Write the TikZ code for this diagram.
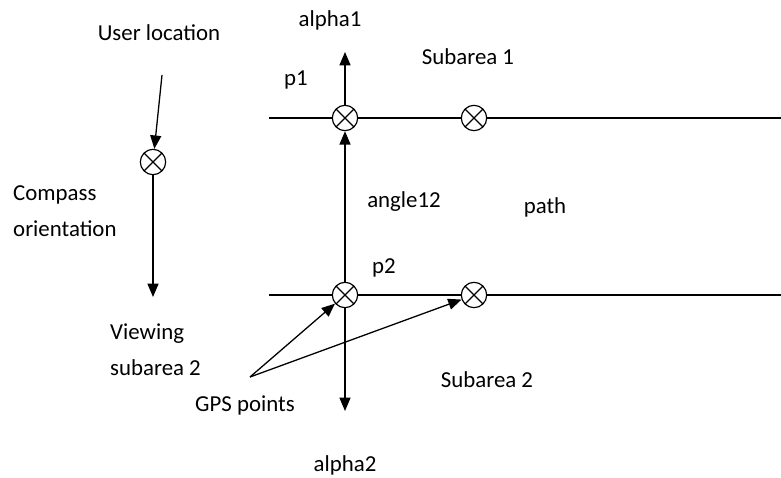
\documentclass[tikz,border=0pt]{standalone}
\usepackage{fontspec}
\setmainfont{Carlito}
\usetikzlibrary{arrows.meta, positioning}

\begin{document}
\begin{tikzpicture}[
    x=0.03cm, y=-0.03cm,
    lbl/.style={font=\fontsize{19.5}{31}\selectfont, inner sep=0pt, align=left},
    gps/.style={circle, draw, line width=1pt, fill=white, minimum size=0.76cm, inner sep=0pt,
        path picture={\draw[line width=1pt] (path picture bounding box.south west) -- (path picture bounding box.north east)
            (path picture bounding box.north west) -- (path picture bounding box.south east);}},
    road/.style={line width=1.2pt},
    arr/.style={-{Triangle[length=4mm, width=3.3mm]}, line width=1.1pt}
]
    \useasboundingbox (0,0) rectangle (781,478);

    % Roads
    \coordinate (r1a) at (269,118);
    \coordinate (r1b) at (781,118);
    \coordinate (r2a) at (269,295);
    \coordinate (r2b) at (781,295);
    \draw[road, line width=0.9pt] (r1a) -- (r1b);
    \draw[road] (r2a) -- (r2b);

    % Nodes
    \node[gps] (p1) at (345,118) {};
    \node[gps] (s1) at (474,118) {};
    \node[gps] (p2) at (345,295) {};
    \node[gps] (s2) at (474,295) {};
    \node[gps] (user) at (153,162) {};

    \coordinate (a1tip) at (345,52);
    \coordinate (a2tip) at (345,411);
    \coordinate (usrc) at (162,75);
    \coordinate (view) at (153,297);
    \coordinate (gpssrc) at (250,377);

    % Labels
    \node[lbl] (tuser) at (159,33) {User location};
    \node[lbl] (talpha1) at (330,20) {alpha1};
    \node[lbl] (tp1) at (296,80) {p1};
    \node[lbl] (tsub1) at (468,57) {Subarea 1};
    \node[lbl, anchor=west] (tcomp) at (13,211) {Compass\\orientation};
    \node[lbl] (tangle) at (404,202) {angle12};
    \node[lbl] (tpath) at (545,207) {path};
    \node[lbl] (tp2) at (384,268) {p2};
    \node[lbl, anchor=west] (tview) at (110,350) {Viewing\\subarea 2};
    \node[lbl] (tgps) at (245,405) {GPS points};
    \node[lbl] (tsub2) at (487,380) {Subarea 2};
    \node[lbl] (talpha2) at (345,465) {alpha2};

    % Arrows
    \draw[arr] (p2) -- (p1);
    \draw[arr] (p1) -- (a1tip);
    \draw[arr] (p2) -- (a2tip);
    \draw[arr] (usrc) -- (user);
    \draw[arr] (user) -- (view);
    \draw[arr] (gpssrc) -- (p2);
    \draw[arr] (gpssrc) -- (s2);

\end{tikzpicture}
\end{document}
